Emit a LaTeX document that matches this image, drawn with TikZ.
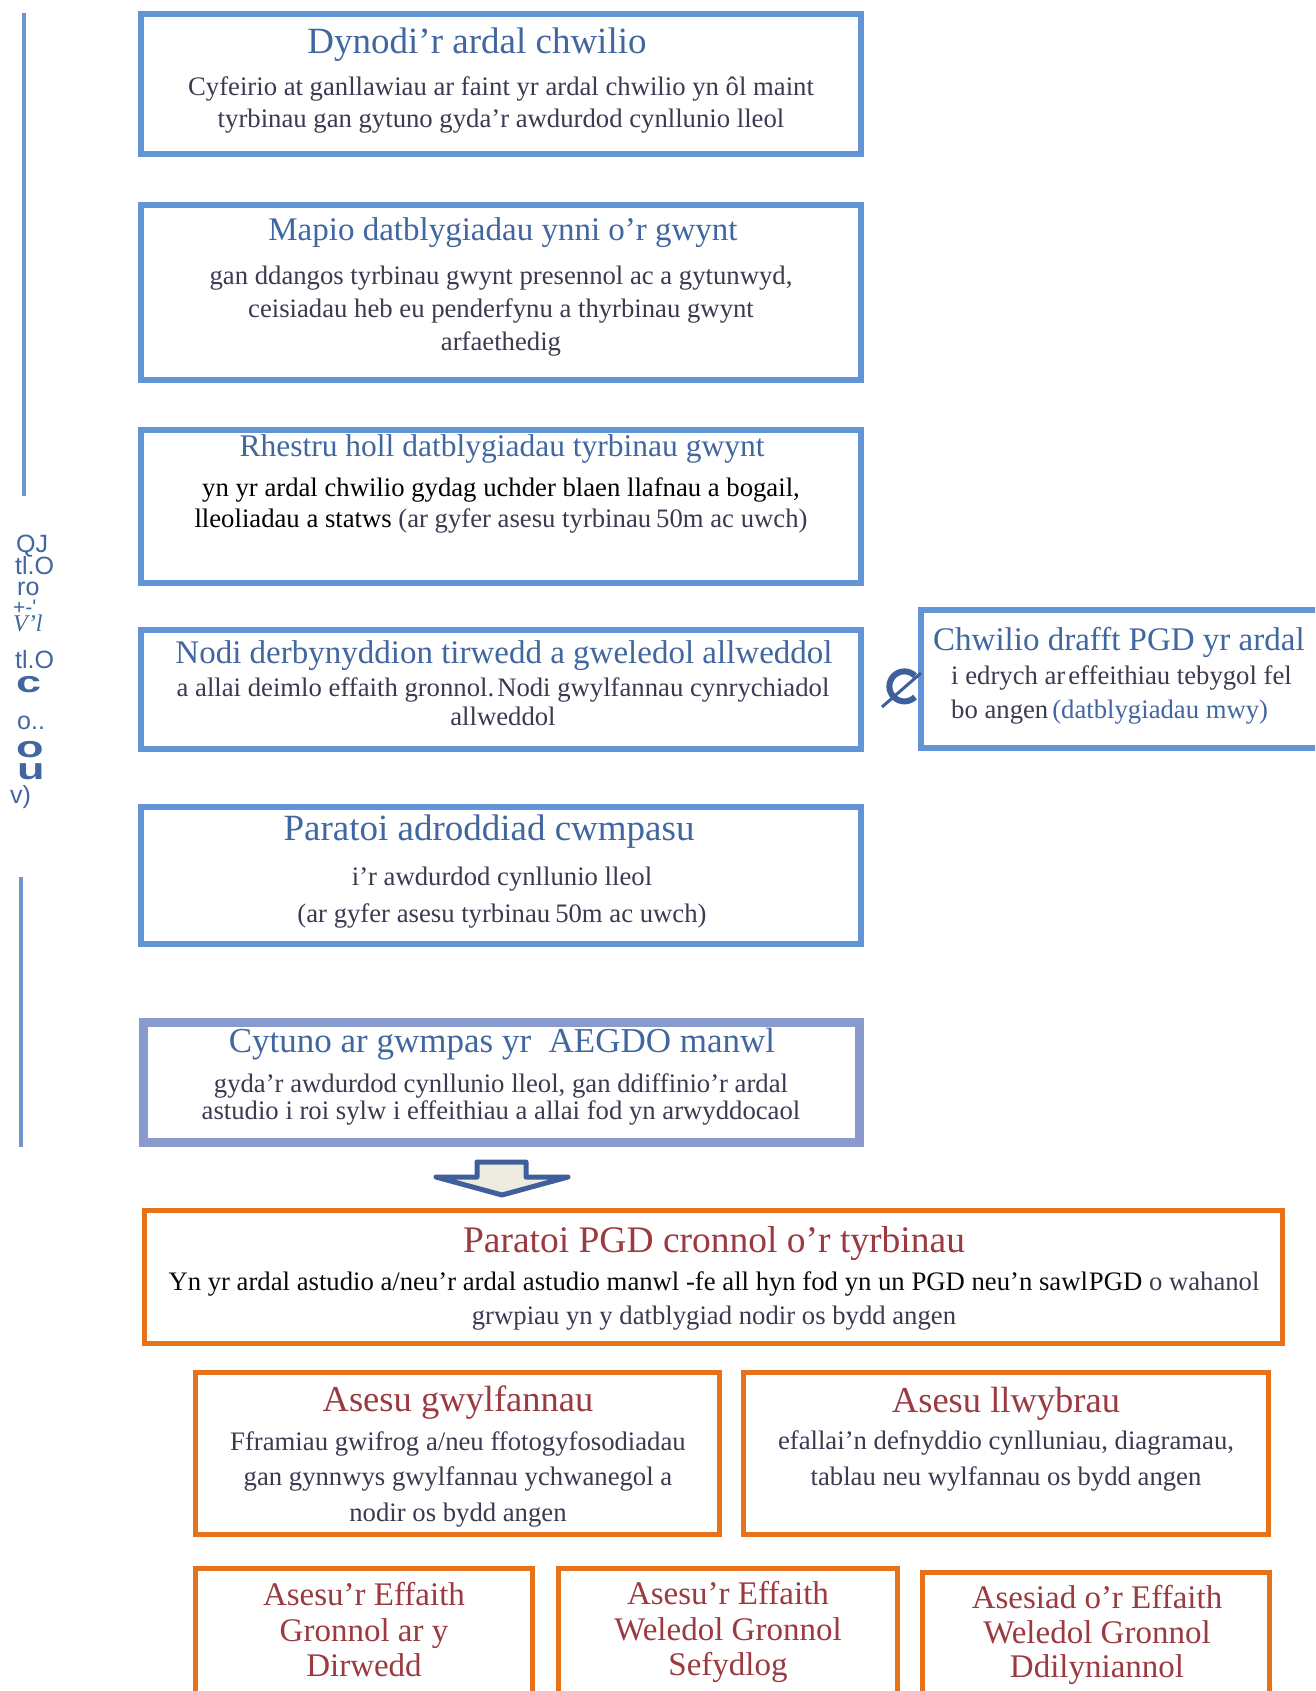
\documentclass[tikz,border=0pt]{standalone}
\usepackage{fontspec}
\setmainfont{Liberation Serif}
\newfontfamily\lsans{Liberation Sans}
\definecolor{boxblue}{RGB}{99,148,215}
\definecolor{lavender}{RGB}{137,155,205}
\definecolor{titleblue}{RGB}{65,103,160}
\definecolor{bodyc}{RGB}{58,58,80}
\definecolor{boxorange}{RGB}{232,114,28}
\definecolor{redt}{RGB}{155,58,64}
\definecolor{leftline}{RGB}{110,150,200}
\definecolor{arrowdark}{RGB}{62,95,155}
\definecolor{arrowfill}{RGB}{238,236,225}
\newcommand{\fs}[2]{\fontsize{#1}{#2}\selectfont}
\newcommand{\wide}[1]{\scalebox{1.5}[1]{#1}}
\begin{document}
\begin{tikzpicture}[x=1pt,y=-1pt,
  bbox/.style={draw=boxblue, line width=5.5pt},
  obox/.style={draw=boxorange, line width=5pt},
  ttl/.style={text=titleblue, inner sep=0pt, align=center},
  rttl/.style={text=redt, inner sep=0pt, align=center},
  bdy/.style={text=bodyc, inner sep=0pt, align=center},
  stk/.style={text=titleblue, inner sep=0pt, anchor=base west, text depth=0pt, font=\lsans\fs{25}{27}}]
\clip (0,0) rectangle (1315,1691);
\fill[white] (0,0) rectangle (1315,1691);

% left vertical lines
\draw[leftline, line width=4.5pt] (24,13) coordinate (lt1) -- (24,496) coordinate (lt2);
\draw[leftline, line width=4pt] (21,877) coordinate (lb1) -- (21,1147) coordinate (lb2);

% left garbled stack
\node[stk] (s1) at (16,552) {QJ};
\node[stk] (s2) at (15,574) {tl.O};
\node[stk] (s3) at (17,595) {ro};
\node[stk, font=\lsans\fs{21}{22}] (s4) at (13,614) {+-'};
\node[stk, font=\itshape\fs{24}{25}] (s5) at (13,631) {V'l};
\node[stk] (s6) at (15,668) {tl.O};
\node[stk, font=\lsans\bfseries\fs{30}{32}] (s7) at (16,692) {\wide{c}};
\node[stk] (s8) at (17,729) {o..};
\node[stk, font=\lsans\bfseries\fs{30}{32}] (s9) at (16,757) {\wide{o}};
\node[stk, font=\lsans\bfseries\fs{30}{32}] (s10) at (17,779) {\wide{u}};
\node[stk] (s11) at (10,803) {v)};

% blue boxes
\draw[bbox] (141,14) rectangle (861,154);
\draw[bbox] (141,205) rectangle (861,380);
\draw[bbox] (141,430) rectangle (861,583);
\draw[bbox] (141,630) rectangle (861,749);
\draw[bbox] (141,807) rectangle (861,944);
\draw[draw=lavender, line width=9pt] (143.5,1022) rectangle (859.5,1142);
\draw[bbox] (921,610) rectangle (1330,748);

% box 1
\node[ttl, font=\fs{37}{40}] (t1) at (477,45) {Dynodi’r ardal chwilio};
\node[bdy, font=\fs{26.7}{32.4}] (d1) at (501,105) {Cyfeirio at ganllawiau ar faint yr ardal chwilio yn ôl maint\\tyrbinau gan gytuno gyda’r awdurdod cynllunio lleol};

% box 2
\node[ttl, font=\fs{33}{38}] (t2) at (503,233) {Mapio datblygiadau ynni o’r gwynt};
\node[bdy, font=\fs{26.7}{33}] (d2) at (501,311.5) {gan ddangos tyrbinau gwynt presennol ac a gytunwyd,\\ceisiadau heb eu penderfynu a thyrbinau gwynt\\arfaethedig};

% box 3
\node[ttl, font=\fs{31.5}{36}] (t3) at (502,449) {Rhestru holl datblygiadau tyrbinau gwynt};
\node[bdy, text=black, font=\fs{26.7}{31}] (d3) at (501,505) {yn yr ardal chwilio gydag uchder blaen llafnau a bogail,\\lleoliadau a statws {\color{bodyc}(ar gyfer asesu tyrbinau\hspace{5pt}50m ac uwch)}};

% box 4
\node[ttl, font=\fs{33}{38}] (t4) at (504,656) {Nodi derbynyddion tirwedd a gweledol allweddol};
\node[bdy, font=\fs{26.7}{29}] (d4) at (503,702) {a allai deimlo effaith gronnol.\hspace{3pt}Nodi gwylfannau cynrychiadol\\allweddol};

% box 5
\node[ttl, font=\fs{37}{40}] (t5) at (489,832) {Paratoi adroddiad cwmpasu};
\node[bdy, font=\fs{26.7}{37}] (d5) at (502,898) {i’r awdurdod cynllunio lleol\\(ar gyfer asesu tyrbinau\hspace{5pt}50m ac uwch)};

% box 6
\node[ttl, font=\fs{35}{38}] (t6) at (502,1044) {Cytuno ar gwmpas yr\ \ AEGDO manwl};
\node[bdy, font=\fs{26.7}{27}] (d6) at (501,1099.5) {gyda’r awdurdod cynllunio lleol, gan ddiffinio’r ardal\\astudio i roi sylw i effeithiau a allai fod yn arwyddocaol};

% right box
\node[ttl, anchor=west, font=\fs{33}{38}] (t7) at (933,642) {Chwilio drafft PGD yr ardal};
\node[bdy, anchor=west, align=left, font=\fs{26.7}{34}] (d7) at (951,695) {i edrych ar\hspace{3pt}effeithiau tebygol fel\\bo angen\hspace{4pt}{\color{titleblue}(datblygiadau mwy)}};

% slashed C symbol
\draw[arrowdark, line width=6pt] (915,697) arc[start angle=45, end angle=315, radius=15] coordinate (cs);
\draw[arrowdark, line width=3pt] (882,707) -- (921,673);

% block arrow
\draw[arrowdark, fill=arrowfill, line width=5pt, line join=round]
  (477,1162) -- (526,1162) -- (526,1177) -- (568,1177) -- (502,1195) -- (436,1177) -- (477,1177) -- cycle;

% orange boxes
\draw[obox] (144.5,1210.5) rectangle (1282.5,1343.5);
\draw[obox] (195.5,1372.5) rectangle (719.5,1534.5);
\draw[obox] (743.5,1372.5) rectangle (1268.5,1534.5);
\draw[obox] (195.5,1568.5) rectangle (532.5,1720);
\draw[obox] (558.5,1568.5) rectangle (897.5,1720);
\draw[obox] (922.5,1572.5) rectangle (1269.5,1720);

\node[rttl, font=\fs{37.5}{40}] (t8) at (714,1244) {Paratoi PGD cronnol o’r tyrbinau};
\node[bdy, font=\fs{26.7}{34.5}] (d8) at (714,1301) {{\color{black!85!bodyc}Yn yr ardal astudio a/neu’r ardal astudio manwl -fe all hyn fod yn un PGD neu’n sawl\hspace{1pt}PGD} o wahanol\\grwpiau yn y datblygiad nodir os bydd angen};

\node[rttl, font=\fs{36.5}{40}] (t9) at (458,1403) {Asesu gwylfannau};
\node[bdy, font=\fs{26.7}{35.5}] (d9) at (458,1479) {Fframiau gwifrog a/neu ffotogyfosodiadau\\gan gynnwys gwylfannau ychwanegol a\\nodir os bydd angen};

\node[rttl, font=\fs{36.5}{40}] (t10) at (1006,1404) {Asesu llwybrau};
\node[bdy, font=\fs{26.7}{36}] (d10) at (1006,1461) {efallai’n defnyddio cynlluniau, diagramau,\\tablau neu wylfannau os bydd angen};

\node[rttl, font=\fs{33}{35.5}] (t11) at (364,1630) {Asesu’r Effaith\\Gronnol ar y\\Dirwedd};
\node[rttl, font=\fs{33}{35.5}] (t12) at (728,1632) {Asesu’r Effaith\\Weledol Gronnol\\Sefydlog};
\node[rttl, font=\fs{33}{34.5}] (t13) at (1097,1635) {Asesiad o’r Effaith\\Weledol Gronnol\\Ddilyniannol};
\end{tikzpicture}
\end{document}
